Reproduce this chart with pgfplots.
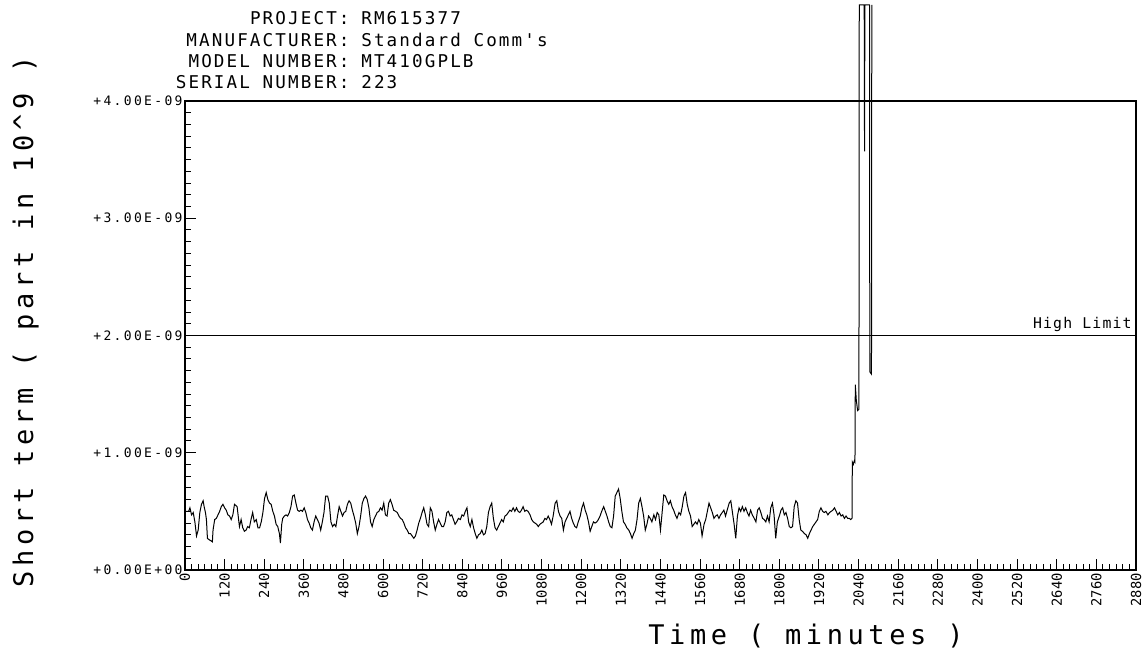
\documentclass[border=0pt]{standalone}
\usepackage{fontspec}
\setmainfont{DejaVu Sans Mono}
\newfontfamily\ytickfont[LetterSpace=18]{DejaVu Sans Mono}
\newfontfamily\xtickfont{DejaVu Sans Mono}
\newfontfamily\limfont[LetterSpace=8]{DejaVu Sans Mono}
\newfontfamily\hdrfont[LetterSpace=12]{DejaVu Sans Mono}
\newfontfamily\labfont[LetterSpace=17]{DejaVu Sans Mono}
\usepackage{pgfplots}
\usepackage{pgfplotstable}
\pgfplotsset{compat=1.18}

\pgfplotstableread{
x y
2 0.50
11 0.50
15 0.53
20 0.47
25 0.49
30 0.41
35 0.29
40 0.34
45 0.49
50 0.56
55 0.59
58 0.54
62 0.49
65 0.43
68 0.27
72 0.26
78 0.25
83 0.24
85 0.34
90 0.43
95 0.44
100 0.47
105 0.50
110 0.54
115 0.56
120 0.53
125 0.51
130 0.47
135 0.46
140 0.43
145 0.47
150 0.56
158 0.54
162 0.44
165 0.37
170 0.43
175 0.36
180 0.33
185 0.34
190 0.37
195 0.36
200 0.43
205 0.49
210 0.41
216 0.43
221 0.36
226 0.36
231 0.41
236 0.49
241 0.61
246 0.66
251 0.60
256 0.57
261 0.56
266 0.50
271 0.46
276 0.39
281 0.37
286 0.31
289 0.23
293 0.39
296 0.44
301 0.46
306 0.47
311 0.46
316 0.49
321 0.54
326 0.63
331 0.64
336 0.57
341 0.51
346 0.50
351 0.51
356 0.50
361 0.53
366 0.49
371 0.43
376 0.40
381 0.36
386 0.34
391 0.41
396 0.46
401 0.43
406 0.40
411 0.34
416 0.41
421 0.49
426 0.63
432 0.63
437 0.57
442 0.41
447 0.37
452 0.39
457 0.37
462 0.46
467 0.54
472 0.50
477 0.46
482 0.49
487 0.50
492 0.56
497 0.59
502 0.57
507 0.51
512 0.46
517 0.40
522 0.31
527 0.37
532 0.46
537 0.57
542 0.61
547 0.63
552 0.60
557 0.53
562 0.41
567 0.37
572 0.43
577 0.46
582 0.49
587 0.50
592 0.53
597 0.51
602 0.57
607 0.47
612 0.46
617 0.57
622 0.60
627 0.56
632 0.51
638 0.50
643 0.49
648 0.46
653 0.44
658 0.43
663 0.40
668 0.36
673 0.34
678 0.31
683 0.31
688 0.29
693 0.27
698 0.29
703 0.34
708 0.40
713 0.44
718 0.49
723 0.53
728 0.47
733 0.39
738 0.37
743 0.53
748 0.50
753 0.41
758 0.34
763 0.39
768 0.43
773 0.40
778 0.37
783 0.37
788 0.41
793 0.49
798 0.50
803 0.46
808 0.47
813 0.43
818 0.39
823 0.41
828 0.44
834 0.43
839 0.47
844 0.46
849 0.50
854 0.53
859 0.41
864 0.37
869 0.43
874 0.36
879 0.31
884 0.27
889 0.30
894 0.31
899 0.34
904 0.30
909 0.31
914 0.37
919 0.49
924 0.54
929 0.57
934 0.44
939 0.36
944 0.34
949 0.37
954 0.40
959 0.43
964 0.41
969 0.46
974 0.47
979 0.49
984 0.51
989 0.50
994 0.53
999 0.50
1004 0.53
1009 0.50
1014 0.49
1019 0.51
1024 0.54
1029 0.50
1034 0.51
1039 0.50
1045 0.47
1050 0.43
1055 0.41
1060 0.40
1065 0.39
1070 0.37
1075 0.39
1080 0.40
1085 0.41
1090 0.44
1095 0.43
1100 0.46
1105 0.43
1110 0.39
1115 0.46
1121 0.57
1126 0.59
1131 0.50
1136 0.46
1141 0.44
1146 0.34
1151 0.41
1156 0.44
1161 0.47
1166 0.50
1171 0.44
1176 0.40
1181 0.37
1186 0.36
1191 0.41
1197 0.46
1202 0.53
1207 0.57
1212 0.51
1217 0.47
1222 0.41
1227 0.33
1232 0.37
1237 0.41
1242 0.40
1247 0.41
1252 0.43
1257 0.46
1262 0.50
1268 0.54
1273 0.50
1278 0.46
1283 0.41
1288 0.37
1293 0.36
1298 0.46
1303 0.63
1308 0.66
1313 0.69
1318 0.61
1323 0.50
1328 0.41
1333 0.39
1338 0.36
1344 0.34
1349 0.31
1354 0.27
1359 0.31
1364 0.34
1369 0.43
1374 0.57
1379 0.61
1384 0.54
1389 0.46
1394 0.34
1399 0.39
1404 0.46
1409 0.44
1414 0.41
1420 0.47
1425 0.43
1430 0.49
1435 0.47
1440 0.34
1445 0.49
1450 0.64
1455 0.63
1460 0.59
1465 0.56
1470 0.59
1475 0.54
1480 0.51
1485 0.47
1490 0.44
1496 0.49
1501 0.47
1506 0.54
1511 0.63
1516 0.66
1521 0.56
1526 0.50
1531 0.46
1536 0.37
1541 0.39
1546 0.41
1551 0.39
1556 0.43
1561 0.40
1566 0.29
1572 0.39
1577 0.43
1582 0.50
1587 0.57
1592 0.53
1597 0.49
1602 0.44
1607 0.46
1612 0.47
1617 0.44
1622 0.47
1627 0.49
1632 0.51
1637 0.46
1642 0.51
1648 0.57
1653 0.59
1658 0.49
1663 0.39
1668 0.27
1673 0.46
1678 0.53
1683 0.50
1688 0.54
1693 0.50
1698 0.53
1703 0.49
1708 0.46
1713 0.51
1718 0.47
1724 0.44
1729 0.41
1734 0.51
1739 0.53
1744 0.49
1749 0.44
1754 0.43
1759 0.41
1764 0.46
1769 0.41
1774 0.53
1779 0.57
1784 0.47
1789 0.27
1794 0.41
1800 0.46
1805 0.51
1810 0.53
1815 0.47
1820 0.49
1825 0.44
1830 0.37
1835 0.36
1840 0.37
1845 0.54
1850 0.59
1855 0.57
1860 0.43
1865 0.34
1870 0.33
1876 0.31
1881 0.30
1886 0.27
1891 0.31
1896 0.34
1901 0.37
1906 0.39
1911 0.41
1916 0.43
1921 0.50
1926 0.53
1931 0.50
1936 0.49
1941 0.50
1947 0.47
1952 0.49
1957 0.50
1962 0.51
1967 0.53
1972 0.50
1977 0.47
1982 0.49
1987 0.46
1992 0.47
1997 0.44
2002 0.46
2007 0.44
2012 0.44
2016 0.43
2020 0.44
2021 0.92
2024 0.90
2027 0.93
2029 0.92
2030 1.58
2033 1.45
2037 1.36
2041 1.37
2042 4.82
2057 4.82
2058 3.57
2059 4.82
2073 4.82
2074 1.69
2079 1.67
2080 4.82
}\datatable

\begin{document}
\begin{tikzpicture}
\begin{axis}[
  scale only axis,
  width=475.5pt, height=234.5pt,
  xmin=0, xmax=2880, ymin=0, ymax=4,
  clip=false,
  axis line style={line width=0.6pt},
  every tick/.style={black, line width=0.5pt},
  tick align=inside,
  xtick pos=bottom, ytick pos=left,
  major tick length=5.5pt, minor tick length=2.8pt,
  xtick={0,120,240,360,480,600,720,840,960,1080,1200,1320,1440,1560,1680,1800,1920,2040,2160,2280,2400,2520,2640,2760,2880},
  xticklabels={0,120,240,360,480,600,720,840,960,1080,1200,1320,1440,1560,1680,1800,1920,2040,2160,2280,2400,2520,2640,2760,2880},
  minor x tick num=5,
  ytick={0,1,2,3,4},
  yticklabels={+0.00E+00,+1.00E-09,+2.00E-09,+3.00E-09,+4.00E-09},
  minor y tick num=9,
  xticklabel style={rotate=90, anchor=east, inner sep=1.5pt, font=\xtickfont\fontsize{6.9}{7}\selectfont},
  yticklabel style={anchor=east, inner sep=1pt, font=\ytickfont\fontsize{6.5}{7}\selectfont},
]
\addplot[black, line width=0.5pt] table[x=x, y=y] {\datatable};
\addplot[black, line width=0.5pt] coordinates {(0,2) (2880,2)};
\node[anchor=south east, inner sep=1.5pt, font=\limfont\fontsize{7.4}{8}\selectfont] at (rel axis cs:0.999,0.5) {High Limit};
\node[anchor=base east, inner sep=0pt, font=\hdrfont\fontsize{8.8}{10.65}\selectfont] at (rel axis cs:0.1735,1.162)
  {\begin{tabular}[t]{@{}r@{}}PROJECT:\\MANUFACTURER:\\MODEL NUMBER:\\SERIAL NUMBER:\end{tabular}};
\node[anchor=base west, inner sep=0pt, font=\hdrfont\fontsize{8.8}{10.65}\selectfont] at (rel axis cs:0.185,1.162)
  {\begin{tabular}[t]{@{}l@{}}RM615377\\Standard Comm's\\MT410GPLB\\223\end{tabular}};
\node[anchor=base, inner sep=0pt, font=\labfont\fontsize{13.5}{15}\selectfont] at (rel axis cs:0.653,-0.158) {Time ( minutes )};
\node[rotate=90, anchor=center, inner sep=0pt, font=\labfont\fontsize{13.5}{15}\selectfont] at (rel axis cs:-0.1675,0.529) {Short term ( part in 10\textasciicircum 9 )};
\coordinate (bl) at (rel axis cs:-0.1945,-0.1812);
\coordinate (tr) at (rel axis cs:1.0116,1.2153);
\end{axis}
\pgfresetboundingbox
\path[use as bounding box] (bl) rectangle (tr);
\end{tikzpicture}
\end{document}
